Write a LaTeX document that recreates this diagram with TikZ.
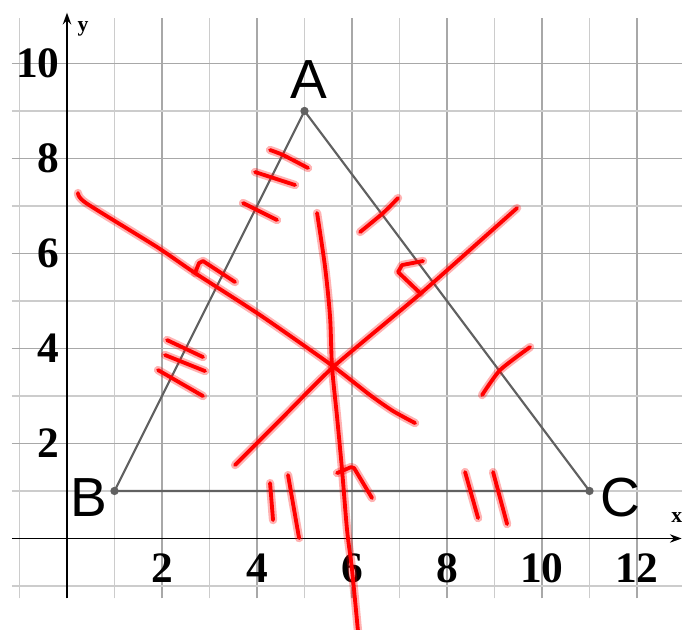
\documentclass[tikz,border=0pt]{standalone}
\usepackage{fontspec}
\setmainfont{Liberation Serif}
\newfontfamily\labfont{Liberation Sans}
\usetikzlibrary{arrows.meta}
\begin{document}
\begin{tikzpicture}[
  gridminor/.style={draw=black!20, line width=0.9pt},
  gridmajor/.style={draw=black!34, line width=0.9pt},
  axisline/.style={draw=black, line width=1.1pt, -{Stealth[length=7pt,width=5pt]}},
  tri/.style={draw=black!62, line width=1.3pt},
  vdot/.style={circle, fill=black!62, inner sep=0pt, minimum size=5pt},
  vlabel/.style={font=\labfont\fontsize{33}{33}\selectfont, inner sep=0pt},
  ticklab/.style={font=\bfseries\fontsize{26}{26}\selectfont, inner sep=0pt},
  axlab/.style={font=\bfseries\fontsize{13}{13}\selectfont, inner sep=0pt},
  halo/.style={draw=red, opacity=0.3, line width=5pt, line cap=round, line join=round},
  pen/.style={draw=red, line width=2.3pt, line cap=round, line join=round, preaction={halo}},
]
\useasboundingbox (-1.4105,-1.9263) rectangle (12.9474,11.3368);
\fill[white] (-1.4105,-1.9263) rectangle (12.9474,11.3368);
% grid
\foreach \x in {-1,1,3,5,7,9,11} \draw[gridminor] (\x,-1.26) -- (\x,10.95);
\foreach \x in {2,4,6,8,10,12} \draw[gridmajor] (\x,-1.26) -- (\x,10.95);
\foreach \y in {-1,1,3,5,7,9} \draw[gridminor] (-1.16,\y) -- (12.95,\y);
\foreach \y in {2,4,6,8,10} \draw[gridmajor] (-1.16,\y) -- (12.95,\y);
% axes
\coordinate (xs) at (-1.16,0);
\coordinate (xe) at (12.94,0);
\coordinate (ys) at (0,-1.26);
\coordinate (ye) at (0,11.07);
\draw[axisline] (xs) -- (xe);
\draw[axisline] (ys) -- (ye);
\node[axlab] (xl) at (12.84,0.45) {x};
\node[axlab] (yl) at (0.34,10.72) {y};
% tick labels
\foreach \x/\n in {2/x2,4/x4,6/x6,8/x8,10/x10,12/x12}
  \node[ticklab] (\n) at (\x,-0.62) {\x};
\foreach \y/\n in {2/y2,4/y4,6/y6,8/y8,10/y10}
  \node[ticklab, anchor=east] (\n) at (-0.15,\y) {\y};
% triangle
\coordinate (A) at (5,9);
\coordinate (B) at (1,1);
\coordinate (C) at (11,1);
\draw[tri] (A) -- (B) -- (C) -- cycle;
\node[vdot] (dA) at (A) {};
\node[vdot] (dB) at (B) {};
\node[vdot] (dC) at (C) {};
\node[vlabel] (lA) at (5.09,9.67) {A};
\node[vlabel] (lB) at (0.46,0.87) {B};
\node[vlabel] (lC) at (11.64,0.87) {C};
% red hand-drawn marks (pixel coordinates)
\begin{scope}[x=0.0210526cm, y=-0.0210526cm, shift={(-1.4105cm,11.3368cm)}]
  % bisector of AB
  \draw[pen] plot[smooth, tension=0.4] coordinates {(78,193) (86,203) (157,247) (195,273) (260,315) (330,364) (370,395) (393,411) (415,423)};
  \draw[pen] (195,273) -- (199,263) -- (203,261) -- (235,282);
  % bisector of BC
  \draw[pen] plot[smooth, tension=0.5] coordinates {(317,213) (325,267) (330,317) (332,367) (337,417) (342,470) (347,530) (352,570) (358,632)};
  \draw[pen] (337,473) -- (351,467) -- (354,468) -- (372,498);
  % bisector of AC
  \draw[pen] plot[smooth, tension=0.3] coordinates {(235,465) (280,420) (333,367) (420,294) (517,208)};
  \draw[pen] (420,293) -- (398,272) -- (402,265) -- (423,261);
  % triple ticks on AB (upper)
  \draw[pen] plot[smooth, tension=0.4] coordinates {(270,150) (283,155) (308,168)};
  \draw[pen] (255,172) -- (295,185);
  \draw[pen] (243,203) -- (277,220);
  % triple ticks on AB (lower)
  \draw[pen] (167,340) -- (203,357);
  \draw[pen] (165,355) -- (205,371);
  \draw[pen] (158,370) -- (203,396);
  % single ticks on AC
  \draw[pen] plot[smooth, tension=0.4] coordinates {(360,232) (383,213) (398,198)};
  \draw[pen] plot[smooth, tension=0.4] coordinates {(482,395) (500,370) (530,347)};
  % double ticks on BC
  \draw[pen] (270,483) -- (273,520);
  \draw[pen] (288,475) -- (299,538);
  \draw[pen] (465,472) -- (478,518);
  \draw[pen] (493,472) -- (507,524);
\end{scope}
\end{tikzpicture}
\end{document}
